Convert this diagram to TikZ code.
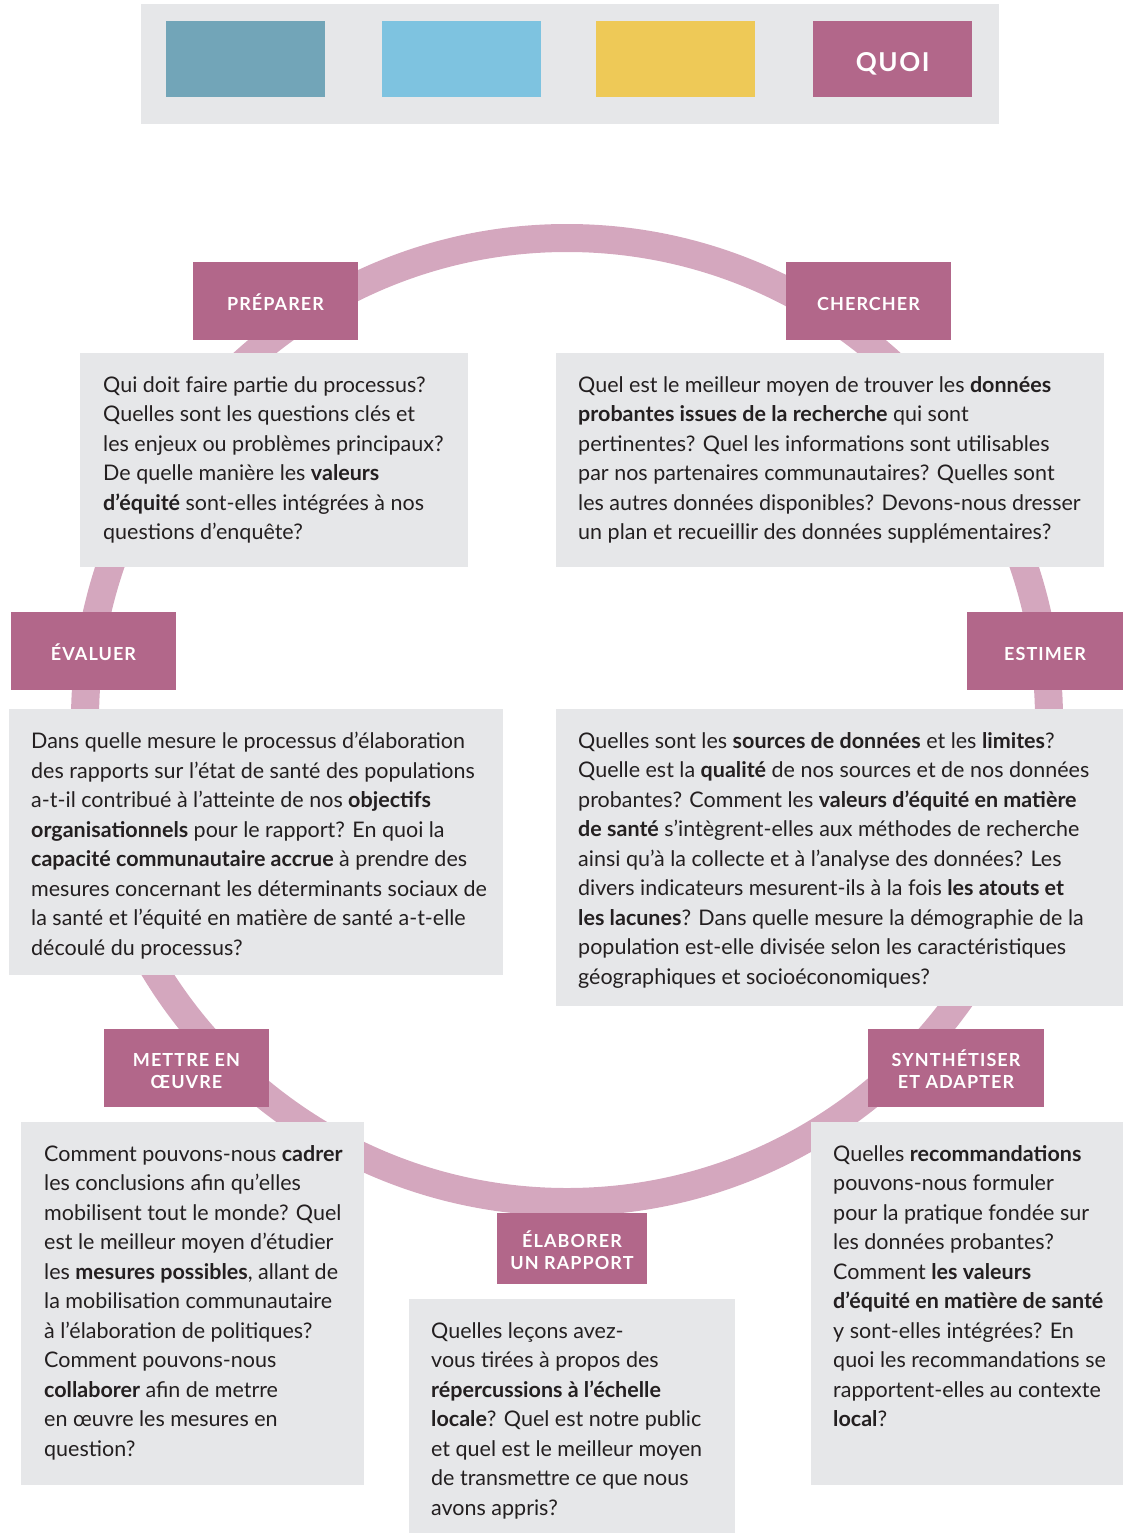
\documentclass[tikz,border=0pt]{standalone}
\usepackage{fontspec}
\setmainfont{Lato}
\newfontfamily\capsfont[LetterSpace=6]{Lato}
\usetikzlibrary{positioning,calc}

\definecolor{steel}{HTML}{72A5B8}
\definecolor{sky}{HTML}{7EC3E0}
\definecolor{mustard}{HTML}{EEC957}
\definecolor{plum}{HTML}{B2678A}
\definecolor{ring}{HTML}{D4A7BE}
\definecolor{boxgray}{HTML}{E6E7E9}
\definecolor{ink}{HTML}{231F20}

\begin{document}
\begin{tikzpicture}[
    x=1pt,y=-1pt,
    font=\fontsize{21.5}{29.5}\selectfont,
    text=ink
  ]
\useasboundingbox (0,0) rectangle (1123,1533);
\def\lw{165}
\def\lh{78}

\tikzstyle{swatch}=[minimum width=159pt,minimum height=76pt,inner sep=0pt]
\tikzstyle{stage}=[fill=plum,text=white,font=\capsfont\bfseries\fontsize{18}{22}\selectfont,minimum width=\lw pt,minimum height=\lh pt,align=center,inner sep=0pt,text height=19pt]
\tikzstyle{stage2}=[stage,text height=41pt,text depth=0pt]
\tikzstyle{qbox}=[fill=boxgray,anchor=north west,inner sep=0pt]
\tikzstyle{qtext}=[anchor=north west,inner sep=0pt,align=left]

% banner
\node[fill=boxgray,anchor=north west,minimum width=858pt,minimum height=120pt,inner sep=0pt] (banner) at (141,4) {};
\node[swatch,fill=steel] (who) at (245.5,59) {};
\node[swatch,fill=sky,right=57pt of who] (why) {};
\node[swatch,fill=mustard,right=54pt of why] (how) {};
\node[swatch,fill=plum,right=58pt of how,text=white,font=\capsfont\bfseries\fontsize{26}{30}\selectfont,text height=25.6pt,text depth=0pt] (what) {QUOI};

% ring
\coordinate (c) at (567,720);
\draw[ring,line width=28pt] (c) circle[radius=482pt];

% question boxes
\node[qbox,minimum width=388pt,minimum height=214pt] (q1) at (80,353) {};
\node[qtext] (t1) at ($(q1.north west)+(23,23)$) {Qui doit faire partie du processus?\\
Quelles sont les questions clés et\\
les enjeux ou problèmes principaux?\\
De quelle manière les \textbf{valeurs}\\
\textbf{d’équité} sont-elles intégrées à nos\\
questions d’enquête?};

\node[qbox,minimum width=548pt,minimum height=214pt] (q2) at (556,353) {};
\node[qtext] (t2) at ($(q2.north west)+(22,23)$) {Quel est le meilleur moyen de trouver les \textbf{données}\\
\textbf{probantes issues de la recherche} qui sont\\
pertinentes? Quel les informations sont utilisables\\
par nos partenaires communautaires? Quelles sont\\
les autres données disponibles? Devons-nous dresser\\
un plan et recueillir des données supplémentaires?};

\node[qbox,minimum width=494pt,minimum height=266pt] (q3) at (9,709) {};
\node[qtext] (t3) at ($(q3.north west)+(22,23)$) {Dans quelle mesure le processus d’élaboration\\
des rapports sur l’état de santé des populations\\
a-t-il contribué à l’atteinte de nos \textbf{objectifs}\\
\textbf{organisationnels} pour le rapport? En quoi la\\
\textbf{capacité communautaire accrue} à prendre des\\
mesures concernant les déterminants sociaux de\\
la santé et l’équité en matière de santé a-t-elle\\
découlé du processus?};

\node[qbox,minimum width=567pt,minimum height=297pt] (q4) at (556,709) {};
\node[qtext] (t4) at ($(q4.north west)+(22,23)$) {Quelles sont les \textbf{sources de données} et les \textbf{limites}?\\
Quelle est la \textbf{qualité} de nos sources et de nos données\\
probantes? Comment les \textbf{valeurs d’équité en matière}\\
\textbf{de santé} s’intègrent-elles aux méthodes de recherche\\
ainsi qu’à la collecte et à l’analyse des données? Les\\
divers indicateurs mesurent-ils à la fois \textbf{les atouts et}\\
\textbf{les lacunes}? Dans quelle mesure la démographie de la\\
population est-elle divisée selon les caractéristiques\\
géographiques et socioéconomiques?};

\node[qbox,minimum width=343pt,minimum height=363pt] (q5) at (21,1122) {};
\node[qtext] (t5) at ($(q5.north west)+(23,23)$) {Comment pouvons-nous \textbf{cadrer}\\
les conclusions afin qu’elles\\
mobilisent tout le monde? Quel\\
est le meilleur moyen d’étudier\\
les \textbf{mesures possibles}, allant de\\
la mobilisation communautaire\\
à l’élaboration de politiques?\\
Comment pouvons-nous\\
\textbf{collaborer} afin de metrre\\
en œuvre les mesures en\\
question?};

\node[qbox,minimum width=326pt,minimum height=234pt] (q6) at (409,1299) {};
\node[qtext] (t6) at ($(q6.north west)+(22,23)$) {Quelles leçons avez-\\
vous tirées à propos des\\
\textbf{répercussions à l’échelle}\\
\textbf{locale}? Quel est notre public\\
et quel est le meilleur moyen\\
de transmettre ce que nous\\
avons appris?};

\node[qbox,minimum width=312pt,minimum height=363pt] (q7) at (811,1122) {};
\node[qtext] (t7) at ($(q7.north west)+(22,23)$) {Quelles \textbf{recommandations}\\
pouvons-nous formuler\\
pour la pratique fondée sur\\
les données probantes?\\
Comment \textbf{les valeurs}\\
\textbf{d’équité en matière de santé}\\
y sont-elles intégrées? En\\
quoi les recommandations se\\
rapportent-elles au contexte\\
\textbf{local}?};

% stage labels
\node[stage] (preparer) at (275.5,301) {PRÉPARER};
\node[stage] (chercher) at (868.5,301) {CHERCHER};
\node[stage] (evaluer) at (93.5,651) {ÉVALUER};
\node[stage,minimum width=156pt] (estimer) at (1045,651) {ESTIMER};
\node[stage2] (oeuvre) at (186.5,1068) {METTRE EN\\ŒUVRE};
\node[stage2,minimum width=176pt] (synth) at (956,1068) {SYNTHÉTISER\\ET ADAPTER};
\node[stage2,minimum width=150pt,minimum height=71pt] (rapport) at (572,1248.5) {ÉLABORER\\UN RAPPORT};

\end{tikzpicture}
\end{document}
